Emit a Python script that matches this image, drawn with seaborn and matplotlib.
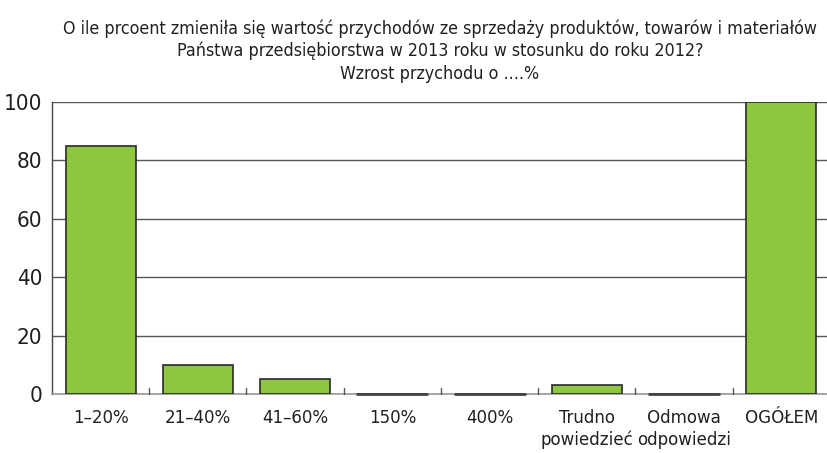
import matplotlib
matplotlib.use("Agg")
import matplotlib.pyplot as plt
import seaborn as sns
import pandas as pd

categories = ["1–20%", "21–40%", "41–60%", "150%", "400%", "Trudno\npowiedzieć", "Odmowa\nodpowiedzi", "OGÓŁEM"]
values = [85, 10, 5, 0, 0, 3, 0, 100]
yticks = [0, 20, 40, 60, 80, 100]
title = ("O ile prcoent zmieniła się wartość przychodów ze sprzedaży produktów, towarów i materiałów\n"
         "Państwa przedsiębiorstwa w 2013 roku w stosunku do roku 2012?\n"
         "Wzrost przychodu o ....%")

sns.set_theme(style="white")
plt.rcParams["font.family"] = ["DejaVu Sans"]
plt.rcParams["font.stretch"] = "condensed"

df = pd.DataFrame({"cat": categories, "val": values})
fig = plt.figure(figsize=(8.28, 4.53), dpi=100)
ax = fig.add_axes([52/828, 1 - 394/453, (830-52)/828, (394-102)/453])
sns.barplot(data=df, x="cat", y="val", color="#8dc63f", saturation=1, width=0.72,
            edgecolor="#2a2a2a", linewidth=1.2, ax=ax, zorder=3)
ax.set_ylim(0, 100)
ax.set_xlim(-0.5, len(categories) - 0.5)
ax.set_yticks(yticks)
ax.set_yticklabels([str(t) for t in yticks], fontsize=16, color="#231f20")
ax.yaxis.grid(True, color="#555555", linewidth=1.0, zorder=0)
ax.set_xlabel("")
ax.set_ylabel("")
ax.tick_params(axis="x", length=0, pad=11, labelsize=13.3, labelcolor="#231f20")
ax.tick_params(axis="y", length=0, pad=7)
for lbl in ax.get_xticklabels():
    lbl.set_linespacing(1.25)
for s in ["top", "right"]:
    ax.spines[s].set_visible(False)
ax.spines["left"].set_color("#444444")
ax.spines["left"].set_linewidth(1.0)
ax.spines["bottom"].set_color("#999999")
ax.spines["bottom"].set_linewidth(1.2)
for i in range(1, len(categories)):
    ax.plot([i - 0.5, i - 0.5], [0, 2], color="#555555", linewidth=1.0, zorder=4, clip_on=False)
for i, v in enumerate(values):
    if v == 0:
        ax.plot([i - 0.36, i + 0.36], [0, 0], color="#444444", linewidth=2, zorder=4, clip_on=False)
fig.text(440/828, 1 - 19/453, title, ha="center", va="top", fontsize=12.8, color="#231f20", linespacing=1.3)
fig.savefig("out.png", dpi=100)
